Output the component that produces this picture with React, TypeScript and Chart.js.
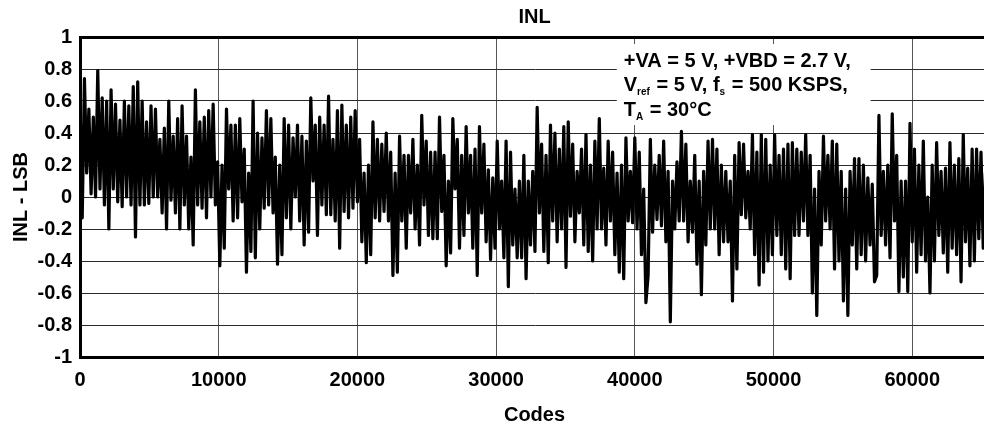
import React, { useEffect, useRef } from 'react';
import { Chart, registerables } from 'chart.js';

Chart.register(...registerables);

const CODE_STEP = 160;
const inlSeg1 = [0.6, -0.13, 0.74, 0.15, 0.55, 0.02, 0.5, 0.0, 0.79, 0.05, 0.62, -0.05, 0.6, -0.2, 0.67, 0.05, 0.58, -0.03, 0.48, -0.06, 0.6, 0.0, 0.57, -0.05, 0.69, -0.25, 0.72, -0.05, 0.6, -0.05, 0.47, -0.04, 0.57, 0.0, 0.55, 0.0, 0.36, -0.1, 0.43, -0.2, 0.6, -0.02, 0.38, -0.1, 0.49, -0.2, 0.57, -0.05, 0.38, -0.2, 0.25];
const inlSeg2 = [-0.3, 0.67, -0.05, 0.47, -0.07, 0.5, -0.13, 0.54, 0.0, 0.58, -0.05, 0.22, -0.43, 0.2, -0.32, 0.55, 0.05, 0.45, -0.15, 0.45, -0.13, 0.49, -0.03, 0.3, -0.47, 0.15, -0.34, 0.6, -0.38, 0.4, -0.2, 0.37, -0.07, 0.54, -0.05, 0.49, -0.1, 0.25, -0.42, 0.2, -0.36, 0.49, -0.13, 0.45, -0.2, 0.37, 0.0, 0.45, -0.15, 0.38, -0.3];
const inlSeg3 = [0.35, -0.22, 0.62, 0.1, 0.45, -0.24, 0.5, -0.05, 0.45, -0.11, 0.63, -0.11, 0.36, -0.15, 0.54, -0.32, 0.575, -0.09, 0.45, -0.13, 0.5, -0.07, 0.54, -0.03, 0.36, -0.28, 0.15, -0.41, 0.2, -0.36, 0.47, -0.13, 0.36, -0.15, 0.33, -0.09, 0.4, -0.15, 0.28, -0.49, 0.15, -0.47, 0.38, -0.15, 0.26, -0.32, 0.26, -0.1, 0.36, -0.2, 0.2];
const inlSeg4 = [-0.3, 0.51, -0.05, 0.35, -0.24, 0.28, -0.26, 0.28, -0.26, 0.5, -0.09, 0.26, -0.43, 0.1, -0.35, 0.49, 0.05, 0.36, -0.32, 0.26, -0.24, 0.44, -0.1, 0.26, -0.32, 0.3, -0.49, 0.44, -0.1, 0.33, -0.28, 0.17, -0.39, 0.12, -0.32, 0.35, -0.2, 0.1, -0.38, 0.35, -0.56, 0.28, -0.3, 0.05, -0.38, 0.1, -0.38, 0.26, -0.51, 0.1, -0.3, 0.16];
const inlSeg5 = [-0.34, 0.56, -0.1, 0.33, -0.34, 0.26, -0.41, 0.45, -0.15, 0.4, -0.28, 0.3, -0.2, 0.44, -0.44, 0.47, -0.12, 0.33, -0.28, 0.16, -0.1, 0.3, -0.3, 0.39, -0.34, 0.2, -0.4, 0.35, -0.2, 0.49, -0.2, 0.18, -0.3, 0.35, -0.15, 0.28, -0.36, 0.15, -0.47, 0.2, -0.51, 0.37, -0.15, 0.16, -0.16, 0.37, -0.2, 0.28, -0.36, 0.05, -0.66];
const inlSeg6 = [-0.49, 0.36, -0.22, 0.2, -0.14, 0.26, -0.18, 0.35, -0.28, 0.16, -0.78, 0.1, -0.2, 0.22, -0.15, 0.41, -0.15, 0.33, -0.28, 0.1, -0.22, 0.26, -0.42, 0.1, -0.61, 0.16, -0.3, 0.35, -0.2, 0.36, -0.2, 0.3, -0.36, 0.2, -0.28, 0.16, -0.28, 0.1, -0.65, 0.26, -0.45, 0.34, -0.11, 0.33, -0.13, 0.16, -0.2, 0.39, -0.36, 0.28, -0.55];
const inlSeg7 = [0.39, -0.47, 0.36, -0.4, 0.2, -0.36, 0.39, -0.24, 0.26, -0.36, 0.3, -0.45, 0.33, -0.51, 0.34, -0.24, 0.3, -0.24, 0.28, -0.15, 0.39, -0.24, 0.26, -0.6, 0.05, -0.74, 0.16, -0.3, 0.38, -0.15, 0.26, -0.2, 0.35, -0.45, 0.33, -0.4, 0.16, -0.65, 0.05, -0.74, 0.16, -0.3, 0.24, -0.45, 0.24, -0.36, 0.2, -0.4, 0.12, -0.3, 0.08, -0.53];
const inlSeg8 = [-0.49, 0.51, -0.24, 0.16, -0.3, 0.2, -0.38, 0.52, -0.15, 0.26, -0.59, 0.1, -0.5, 0.1, -0.59, 0.46, -0.28, 0.3, -0.47, 0.2, -0.36, 0.35, -0.4, 0.0, -0.6, 0.2, -0.4, 0.34, -0.24, 0.16, -0.35, 0.18, -0.47, 0.34, -0.32, 0.2, -0.36, 0.24, -0.53, 0.39, -0.28, 0.18, -0.43, 0.3, -0.4, 0.3, -0.26, 0.28, -0.32, 0.15, -0.4];

const X_MIN = 0;
const X_MAX = 65536;
const Y_MIN = -1;
const Y_MAX = 1;
const xTickValues = [0, 10000, 20000, 30000, 40000, 50000, 60000];
const yTickValues = [-1, -0.8, -0.6, -0.4, -0.2, 0, 0.2, 0.4, 0.6, 0.8, 1];

const chartTitle = 'INL';
const xAxisTitle = 'Codes';
const yAxisTitle = 'INL - LSB';

type Run = { t: string; sub?: boolean };
const annotationLines: Run[][] = [
  [{ t: '+VA = 5 V, +VBD = 2.7 V,' }],
  [{ t: 'V' }, { t: 'ref', sub: true }, { t: ' = 5 V, f' }, { t: 's', sub: true }, { t: ' = 500 KSPS,' }],
  [{ t: 'T' }, { t: 'A', sub: true }, { t: ' = 30\u00B0C' }],
];
// annotation anchor, in data units
const annotationX = 39200;
const annotationBaselines = [0.81, 0.66, 0.505];
const annotationBoxX = [38700, 57000];
const annotationBoxBottom = 0.45;

const FONT = "'Liberation Sans', Arial, Helvetica, sans-serif";

const overlayPlugin = {
  id: 'overlay',
  afterDatasetsDraw(chart: any) {
    const { ctx, chartArea, scales } = chart;
    const xs = scales.x;
    const ys = scales.y;
    ctx.save();
    const bx0 = xs.getPixelForValue(annotationBoxX[0]);
    const bx1 = xs.getPixelForValue(annotationBoxX[1]);
    const by0 = chartArea.top + 7;
    const by1 = ys.getPixelForValue(annotationBoxBottom);
    ctx.fillStyle = '#ffffff';
    ctx.fillRect(bx0, by0, bx1 - bx0, by1 - by0);

    ctx.fillStyle = '#000';
    ctx.textBaseline = 'alphabetic';
    ctx.textAlign = 'left';
    annotationLines.forEach((runs, li) => {
      let x = xs.getPixelForValue(annotationX);
      const yb = ys.getPixelForValue(annotationBaselines[li]);
      runs.forEach((r) => {
        ctx.font = r.sub ? `bold 10px ${FONT}` : `bold 20px ${FONT}`;
        ctx.fillText(r.t, x, r.sub ? yb + 4 : yb);
        x += ctx.measureText(r.t).width + (r.sub ? 1 : 0);
      });
    });
    ctx.restore();
  },
  afterDraw(chart: any) {
    const { ctx, chartArea } = chart;
    ctx.save();
    ctx.fillStyle = '#000';
    ctx.font = `bold 20px ${FONT}`;
    ctx.textAlign = 'center';
    ctx.textBaseline = 'middle';
    ctx.fillText(chartTitle, (chartArea.left + chartArea.right) / 2, chartArea.top - 20);
    ctx.restore();
  },
};

export default function App() {
  const canvasRef = useRef<HTMLCanvasElement | null>(null);

  useEffect(() => {
    const canvas = canvasRef.current;
    if (!canvas) return;
    const values = [
      ...inlSeg1, ...inlSeg2, ...inlSeg3, ...inlSeg4,
      ...inlSeg5, ...inlSeg6, ...inlSeg7, ...inlSeg8,
    ];
    const points = values.map((v, i) => ({ x: i * CODE_STEP, y: v }));

    const tickFont = { family: FONT, size: 20, weight: 'bold' as const };

    const chart = new Chart(canvas, {
      type: 'line',
      data: {
        datasets: [
          {
            data: points,
            borderColor: '#000',
            borderWidth: 3.2,
            borderJoinStyle: 'round',
            borderCapStyle: 'round',
            pointRadius: 0,
            tension: 0,
            fill: false,
          },
        ],
      },
      options: {
        animation: false,
        responsive: false,
        events: [],
        layout: { padding: { top: 37, right: 6, left: 0, bottom: 0 } },
        plugins: {
          legend: { display: false },
          tooltip: { enabled: false },
          title: { display: false },
        },
        scales: {
          x: {
            type: 'linear',
            min: X_MIN,
            max: X_MAX,
            afterBuildTicks: (scale: any) => {
              scale.ticks = xTickValues.map((v) => ({ value: v }));
            },
            afterFit: (scale: any) => {
              scale.height = 70;
            },
            ticks: {
              autoSkip: false,
              maxRotation: 0,
              padding: 11,
              color: '#000',
              font: tickFont,
              callback: (v: any) => String(v),
            },
            grid: {
              drawTicks: false,
              color: '#555',
              lineWidth: 1,
            },
            border: { display: true, color: '#000', width: 3 },
            title: {
              display: true,
              text: xAxisTitle,
              color: '#000',
              font: tickFont,
              padding: { top: 0, bottom: 0 },
            },
          },
          y: {
            type: 'linear',
            min: Y_MIN,
            max: Y_MAX,
            afterBuildTicks: (scale: any) => {
              scale.ticks = yTickValues.map((v) => ({ value: v }));
            },
            afterFit: (scale: any) => {
              scale.width = 80;
            },
            ticks: {
              padding: 8,
              color: '#000',
              font: tickFont,
              callback: (v: any) => String(v),
            },
            grid: {
              drawTicks: false,
              color: (c: any) => (c.tick && c.tick.value === Y_MAX ? '#000' : '#2a2a2a'),
              lineWidth: (c: any) => (c.tick && c.tick.value === Y_MAX ? 3 : 1),
            },
            border: { display: true, color: '#000', width: 3 },
            title: {
              display: true,
              text: yAxisTitle,
              color: '#000',
              font: tickFont,
              padding: { top: 9, bottom: 0 },
            },
          },
        },
      },
      plugins: [overlayPlugin],
    });

    return () => {
      chart.destroy();
    };
  }, []);

  return (
    <div
      style={{
        position: 'absolute',
        left: 0,
        top: 0,
        width: 984,
        height: 427,
        overflow: 'hidden',
        background: '#fff',
      }}
    >
      <canvas ref={canvasRef} width={995} height={427} style={{ width: 995, height: 427, display: 'block' }} />
    </div>
  );
}
